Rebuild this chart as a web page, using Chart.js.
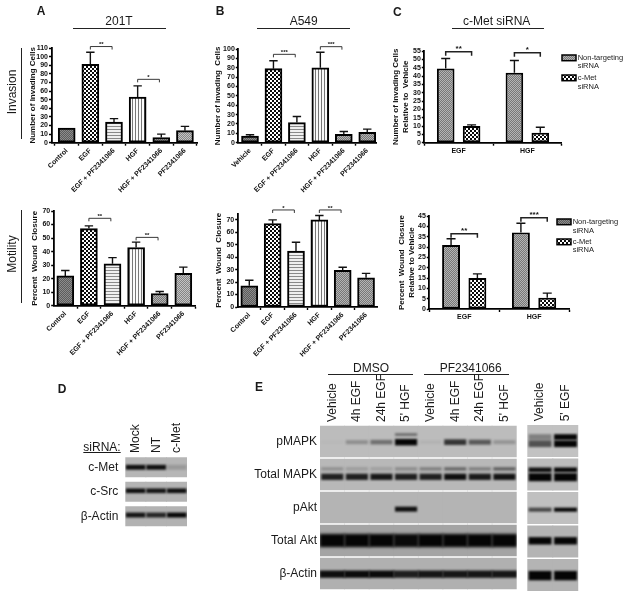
<!DOCTYPE html>
<html><head><meta charset="utf-8">
<style>
html,body{margin:0;padding:0;background:#fff;width:629px;height:598px;overflow:hidden}
#page{position:absolute;left:0;top:0;width:629px;height:598px;filter:blur(0.3px)}
canvas{position:absolute;left:0;top:0}
.t{position:absolute;white-space:nowrap;font-family:"Liberation Sans",Arial,sans-serif;color:#1a1a1a;transform:translate(-50%,-50%)}
.r{transform:translate(-50%,-50%) rotate(-90deg)}
.l{position:absolute;background:#222}
</style>
<script src="https://cdn.jsdelivr.net/npm/chart.js@4"></script>
</head><body><div id="page"></div>
<script>
// ---------- data ----------
const catsControl=['Control','EGF','EGF + PF2341066','HGF','HGF + PF2341066','PF2341066'];
const catsVehicle=['Vehicle','EGF','EGF + PF2341066','HGF','HGF + PF2341066','PF2341066'];
const catsSi=['EGF','HGF'];

const invA=[17,91,24,53,6,14];      const invAErr=[0,14,4,13,4,5];
const invB=[7,79,21.5,80,9,11];     const invBErr=[1.5,8.5,6.5,16.5,3,3.5];
const motA=[22,57,31,43,9,24];      const motAErr=[4,2,4.5,4,1.5,4.5];
const motB=[17,67,45,70,29.5,23.5]; const motBErr=[4.5,3,7,3.5,2.5,3.5];

const invCNon=[44.5,42];  const invCNonErr=[6,7.3];
const invCMet=[10,6];     const invCMetErr=[0.7,3.3];
const motCNon=[31,37];    const motCNonErr=[3,4.5];
const motCMet=[15,5.5];   const motCMetErr=[2,2.2];

const legendNames=[['Non-targeting','siRNA'],['c-Met','siRNA']];

const dRows=['c-Met','c-Src','β-Actin'];
const dLanes=['Mock','NT','c-Met'];
const dCMet=[.95,.95,.16];
const dCSrc=[.95,.92,.95];
const dActin=[.92,.82,1];

const eRows=['pMAPK','Total MAPK','pAkt','Total Akt','β-Actin'];
const eLanes=['Vehicle','4h EGF','24h EGF',"5' HGF",'Vehicle','4h EGF','24h EGF',"5' HGF"];
const ePMapkLow=[.02,.25,.42,1,.05,.75,.55,.22];
const ePMapkUp=[0,0,0,.45,0,0,0,0];
const eMapkLow=[.85,.85,.9,.85,.85,.95,.88,.92];
const eMapkUp=[.22,.16,.14,.25,.32,.45,.32,.5];
const ePAkt=[0,0,0,.95,0,0,0,0];
const eAkt=[1,1,1,.97,1,1,1,1];
const eActin=[.95,.97,.97,.85,.9,.9,.9,.9];

const fLanes=['Vehicle',"5' EGF"];
const fPMapkLow=[.6,1];
const fPMapkUp=[.35,1];
const fMapkLow=[1,1];
const fMapkUp=[.95,1];
const fPAkt=[.65,1];
const fAkt=[1,1];
const fActin=[1,1];

// ---------- helpers ----------
const W=629,H=598,FONT='"Liberation Sans",Arial,sans-serif';
const page=document.getElementById('page');
function text(s,x,y,size,opt={}){
  const d=document.createElement('div');d.className='t'+(opt.rot?' r':'');d.textContent=s;
  d.style.left=x+'px';d.style.top=y+'px';d.style.fontSize=size+'px';
  if(opt.bold)d.style.fontWeight='bold';
  if(opt.under)d.style.textDecoration='underline';
  page.appendChild(d);
}
function rule(x,y,w,h){const d=document.createElement('div');d.className='l';
  d.style.cssText+=`left:${x}px;top:${y}px;width:${w}px;height:${h}px`;page.appendChild(d);}
function newCanvas(){const c=document.createElement('canvas');c.width=W;c.height=H;c.style.width=W+'px';c.style.height=H+'px';page.appendChild(c);return c.getContext('2d');}

function tile(w,h,draw){const c=document.createElement('canvas');c.width=w;c.height=h;const x=c.getContext('2d');draw(x);return x.createPattern(c,'repeat');}
function dither(a,b){return tile(2,2,x=>{x.fillStyle=a;x.fillRect(0,0,2,2);x.fillStyle=b;x.fillRect(0,0,1,1);x.fillRect(1,1,1,1);});}
const fills={
  dark:dither('#5c5c5c','#8c8c8c'),
  mid:dither('#777','#b4b4b4'),
  light:dither('#858585','#c4c4c4'),
  check:tile(4,4,x=>{x.fillStyle='#fff';x.fillRect(0,0,4,4);x.fillStyle='#0a0a0a';x.fillRect(0,0,2,2);x.fillRect(2,2,2,2);}),
  hlines:tile(3,3,x=>{x.fillStyle='#f0f0f0';x.fillRect(0,0,3,3);x.fillStyle='#8a8a8a';x.fillRect(0,0,3,1);}),
  vlines:tile(3,3,x=>{x.fillStyle='#fafafa';x.fillRect(0,0,3,3);x.fillStyle='#777';x.fillRect(0,0,1,3);})
};

const marks={id:'marks',
  afterDatasetsDraw(chart,_,o){
    const ctx=chart.ctx,xs=chart.scales.x,ys=chart.scales.y;
    ctx.save();
    (chart.data.datasets||[]).forEach((ds,d)=>{
      if(!ds.errs)return;
      const meta=chart.getDatasetMeta(d);
      ds.errs.forEach((e,i)=>{
        if(!e)return;
        const x=meta.data[i].x,y0=ys.getPixelForValue(ds.vals[i]),y1=ys.getPixelForValue(ds.vals[i]+e),c=o.cap||4.2;
        ctx.strokeStyle='#111';ctx.lineWidth=1.4;ctx.beginPath();
        ctx.moveTo(x,y0);ctx.lineTo(x,y1);ctx.moveTo(x-c,y1);ctx.lineTo(x+c,y1);ctx.stroke();
      });
    });
    (o.brackets||[]).forEach(b=>{
      const xa=xs.type==='linear'?xs.getPixelForValue(b.a):chart.getDatasetMeta(0).data[b.a].x;
      const xb=xs.type==='linear'?xs.getPixelForValue(b.b):chart.getDatasetMeta(1).data[b.a].x;
      const y=ys.getPixelForValue(b.y);
      ctx.strokeStyle='#222';ctx.lineWidth=o.brW||0.9;ctx.beginPath();
      ctx.moveTo(xa,y+(o.tip||3));ctx.lineTo(xa,y);ctx.lineTo(xb,y);ctx.lineTo(xb,y+(o.tip||3));ctx.stroke();
      ctx.fillStyle='#111';ctx.font='bold '+(o.starSize||6)+'px '+FONT;ctx.textAlign='center';ctx.textBaseline='middle';
      ctx.fillText(b.t,(xa+xb)/2,y-(o.starUp||2));
    });
    (o.legend||[]).forEach(l=>{
      ctx.fillStyle=fills[l.fill];ctx.fillRect(l.x,l.y,l.w,l.h);
      ctx.strokeStyle='#000';ctx.lineWidth=1.5;ctx.strokeRect(l.x,l.y,l.w,l.h);
      ctx.fillStyle='#222';ctx.font='7.5px '+FONT;ctx.textAlign='left';ctx.textBaseline='middle';
      l.lines.forEach((s,k)=>ctx.fillText(s,l.tx,l.ty+k*l.dy));
    });
    ctx.restore();
  }};
const blurry={id:'blurry',
  beforeDatasetDraw(c,a){const b=a.meta.controller.getDataset().blur;c.ctx.save();if(b)c.ctx.filter=`blur(${b}px)`;},
  afterDatasetDraw(c){c.ctx.restore();}};

function pin(L,T,R,B){return {
  y:s=>{s.width=L;s.paddingTop=s.paddingBottom=0;},
  x:s=>{s.height=H-B;s.paddingLeft=s.paddingRight=0;}};}

function yAxis(max,step,title,titleX){return {
  min:0,max,afterFit:null,
  ticks:{stepSize:step,autoSkip:false,includeBounds:false,color:'#111',padding:1,font:{family:FONT,size:7,weight:'bold'}},
  grid:{drawOnChartArea:false,drawTicks:true,tickLength:2.5,tickWidth:1.4,tickColor:'#000'},
  border:{display:true,color:'#000',width:1.8},
  title:{display:true,text:title,color:'#111',font:{family:FONT,size:8,weight:'bold',lineHeight:1.2},padding:{top:titleX-4.8,bottom:0}}
};}

function barPanel(p){
  const [L,T,R,B]=p.box,pn=pin(L,T,R,B);
  const y=yAxis(p.max,p.step,p.title,p.titleX);y.afterFit=pn.y;
  new Chart(newCanvas(),{type:'bar',plugins:[marks],
    data:{datasets:[{vals:p.values,errs:p.errs,
      data:p.values.map((v,i)=>({x:i,y:v})),
      backgroundColor:p.fills.map(f=>fills[f]),borderColor:'#000',borderWidth:2,borderSkipped:false,barThickness:p.barW}]},
    options:{responsive:false,animation:false,devicePixelRatio:1,layout:{padding:{left:0,top:T,right:W-R,bottom:0}},
      plugins:{legend:{display:false},tooltip:{enabled:false},marks:{brackets:p.brackets}},
      scales:{y,
        x:{type:'linear',offset:false,min:(L-p.c0)/p.pitch,max:(R-p.c0)/p.pitch,afterFit:pn.x,
          afterBuildTicks:s=>{s.ticks=p.cats.map((_,i)=>({value:i}));},
          grid:{drawOnChartArea:false,drawTicks:true,tickLength:3,tickWidth:1.4,tickColor:'#000'},
          border:{display:true,color:'#000',width:1.8},
          ticks:{autoSkip:false,minRotation:45,maxRotation:45,padding:1,color:'#111',font:{family:FONT,size:7,weight:'bold'},
            callback:v=>p.cats[v]}}
      }}});
}
function groupPanel(p){
  const [L,T,R,B]=p.box,pn=pin(L,T,R,B);
  const y=yAxis(p.max,p.step,p.title,p.titleX);y.afterFit=pn.y;
  const common={borderColor:'#000',borderWidth:2,borderSkipped:false,categoryPercentage:.754,barPercentage:.68};
  new Chart(newCanvas(),{type:'bar',plugins:[marks],
    data:{labels:p.cats,datasets:[
      {...common,vals:p.a,errs:p.aErr,data:p.a,backgroundColor:fills.mid},
      {...common,vals:p.b,errs:p.bErr,data:p.b,backgroundColor:fills.check}]},
    options:{responsive:false,animation:false,devicePixelRatio:1,layout:{padding:{left:0,top:T,right:W-R,bottom:0}},
      plugins:{legend:{display:false},tooltip:{enabled:false},marks:{brackets:p.brackets,brW:1.5,tip:4,starSize:8,starUp:3,cap:4.5,legend:p.legend}},
      scales:{y,
        x:{afterFit:pn.x,grid:{drawOnChartArea:false,drawTicks:true,tickLength:3,tickWidth:1.4,tickColor:'#000'},
          border:{display:true,color:'#000',width:1.8},
          ticks:{padding:1,color:'#111',font:{family:FONT,size:7,weight:'bold'}}}
      }}});
}

barPanel({cats:catsControl,values:invA,errs:invAErr,fills:['dark','check','hlines','vlines','mid','light'],
  box:[51.5,48,197,142.7],max:110,step:10,c0:66.7,pitch:23.65,barW:17,title:'Number of Invading Cells',titleX:32.7,
  brackets:[{a:1,b:1.92,y:111.7,t:'**'},{a:3,b:3.92,y:73.6,t:'*'}]});
barPanel({cats:catsVehicle,values:invB,errs:invBErr,fills:['dark','check','hlines','vlines','mid','mid'],
  box:[238.3,49,376.5,142.7],max:100,step:10,c0:250,pitch:23.45,barW:17,title:'Number of Invading  Cells',titleX:217.7,
  brackets:[{a:1,b:1.93,y:94.3,t:'***'},{a:3,b:3.92,y:102.5,t:'***'}]});
barPanel({cats:catsControl,values:motA,errs:motAErr,fills:['dark','check','hlines','vlines','mid','light'],
  box:[53.7,211,195.7,305.7],max:70,step:10,c0:65.3,pitch:23.6,barW:17,title:'Percent  Wound  Closure',titleX:35,
  brackets:[{a:1,b:1.93,y:64.6,t:'**'},{a:3,b:3.93,y:50.5,t:'**'}]});
barPanel({cats:catsControl,values:motB,errs:motBErr,fills:['dark','check','hlines','vlines','mid','mid'],
  box:[237.7,213.7,377.7,307],max:75,step:10,c0:249.3,pitch:23.35,barW:17,title:'Percent  Wound  Closure',titleX:218.7,
  brackets:[{a:1,b:1.93,y:78,t:'*'},{a:3,b:3.93,y:78,t:'**'}]});
groupPanel({cats:catsSi,a:invCNon,aErr:invCNonErr,b:invCMet,bErr:invCMetErr,
  box:[424.3,51,561.7,142.7],max:55,step:5,title:['Number of Invading Cells','Relative to  Vehicle'],titleX:396,
  brackets:[{a:0,y:54.6,t:'**'},{a:1,y:54,t:'*'}],
  legend:[{fill:'mid',x:562,y:55,w:14,h:5.7,lines:legendNames[0],tx:577.7,ty:57.7,dy:8.4},
          {fill:'check',x:562,y:75,w:14,h:5.7,lines:legendNames[1],tx:577.7,ty:77.7,dy:9}]});
groupPanel({cats:catsSi,a:motCNon,aErr:motCNonErr,b:motCMet,bErr:motCMetErr,
  box:[429.3,216,569,309],max:45,step:5,title:['Percent  Wound  Closure','Relative to Vehicle'],titleX:401.7,
  brackets:[{a:0,y:36.4,t:'**'},{a:1,y:44.2,t:'***'}],
  legend:[{fill:'dark',x:557,y:219,w:14,h:5.7,lines:legendNames[0],tx:572.7,ty:222.3,dy:8.4},
          {fill:'check',x:557,y:239,w:14,h:5.7,lines:legendNames[1],tx:572.7,ty:241.7,dy:8.4}]});

// ---------- blots ----------
function blot(b){
  const [L,T,R,B]=b.box;
  const gels=b.rows.map((_,r)=>({type:'bar',order:10,grouped:false,barPercentage:1.04,categoryPercentage:1,
    data:b.lanes.map(()=>[r+b.gap,r+1-b.gap]),backgroundColor:b.gel[r],borderWidth:0}));
  const bands=b.bands.map(s=>({type:'bar',order:1,grouped:false,barPercentage:s.w||b.width,categoryPercentage:1,blur:s.blur||1,
    data:s.vals.map((v,i)=>{const th=s.th*(s.grow?(.55+.6*v):1);return v?[s.row+s.pos-th/2,s.row+s.pos+th/2]:null;}),
    backgroundColor:s.vals.map(v=>`rgba(5,5,5,${v})`),borderWidth:0}));
  new Chart(newCanvas(),{type:'bar',plugins:[blurry],
    data:{labels:b.lanes,datasets:[...bands,...gels]},
    options:{responsive:false,animation:false,devicePixelRatio:1,layout:{padding:{left:0,top:0,right:W-R,bottom:H-B}},
      plugins:{legend:{display:false},tooltip:{enabled:false}},
      scales:{
        x:{position:'top',afterFit:s=>{s.height=T;s.paddingLeft=s.paddingRight=0;},grid:{display:false,drawTicks:false},border:{display:false},
          ticks:{autoSkip:false,minRotation:90,maxRotation:90,padding:b.xPad,labelOffset:14.5,color:'#1a1a1a',font:{family:FONT,size:12}}},
        y:{type:'linear',reverse:true,min:0,max:b.rows.length,display:b.showRows?true:false,
          afterFit:s=>{s.width=L;s.paddingTop=s.paddingBottom=0;},
          afterBuildTicks:s=>{s.ticks=b.rows.map((_,i)=>({value:i+.5}));},
          grid:{display:false,drawTicks:false},border:{display:false},
          ticks:{autoSkip:false,padding:b.yPad,color:'#1a1a1a',font:{family:FONT,size:12},callback:v=>b.rows[v-.5]}}
      }}});
}
blot({box:[125.3,455,187,528.5],rows:dRows,lanes:dLanes,gap:.09,width:.96,showRows:true,yPad:7,xPad:2,
  gel:['#b6b6b6','#b4b4b4','#b2b2b2'],
  bands:[{row:0,pos:.5,th:.2,vals:dCMet},{row:1,pos:.46,th:.19,vals:dCSrc},{row:2,pos:.45,th:.2,vals:dActin}]});
blot({box:[320,425,516.7,590],rows:eRows,lanes:eLanes,gap:.022,width:.9,showRows:true,yPad:3,xPad:3,
  gel:['#bcbcbc','#b8b8b8','#b4b4b4','#a4a4a4','#b0b0b0'],
  bands:[{row:0,pos:.52,th:.17,vals:ePMapkLow,grow:true},{row:0,pos:.29,th:.08,vals:ePMapkUp},
         {row:1,pos:.57,th:.19,vals:eMapkLow},{row:1,pos:.33,th:.1,vals:eMapkUp},
         {row:2,pos:.55,th:.15,vals:ePAkt},
         {row:3,pos:.5,th:.38,vals:eAkt,blur:1.6,w:1},
         {row:4,pos:.52,th:.2,vals:eActin,w:1}]});
blot({box:[527.3,424.3,578.3,591.7],rows:eRows,lanes:fLanes,gap:.022,width:.9,showRows:false,yPad:0,xPad:3,
  gel:['#c2c2c2','#bcbcbc','#c0c0c0','#b4b4b4','#b4b4b4'],
  bands:[{row:0,pos:.58,th:.2,vals:fPMapkLow},{row:0,pos:.38,th:.17,vals:fPMapkUp},
         {row:1,pos:.58,th:.24,vals:fMapkLow},{row:1,pos:.36,th:.14,vals:fMapkUp},
         {row:2,pos:.55,th:.12,vals:fPAkt},
         {row:3,pos:.48,th:.22,vals:fAkt},
         {row:4,pos:.52,th:.28,vals:fActin}]});

// ---------- free text ----------
[['A',41,11],['B',220,11],['C',397.3,12],['D',62,388.7],['E',259,386.7]].forEach(a=>text(a[0],a[1],a[2],12,{bold:true}));
text('201T',119,20.7,12);rule(73,28,93,1);
text('A549',303.7,20.7,12);rule(256.7,28,93,1);
text('c-Met siRNA',496.7,21,12);rule(451.7,28,92.5,1);
text('Invasion',12,92,12,{rot:true});rule(21,48.3,1,91);
text('Motility',12,254,12,{rot:true});rule(21.3,210,1,93.3);
text('DMSO',371,367.7,12);rule(328.3,374,85,1);
text('PF2341066',470.7,367.7,12);rule(424.3,374,84.7,1);
text('siRNA:',102,447,12,{under:true});
</script>
</body></html>
